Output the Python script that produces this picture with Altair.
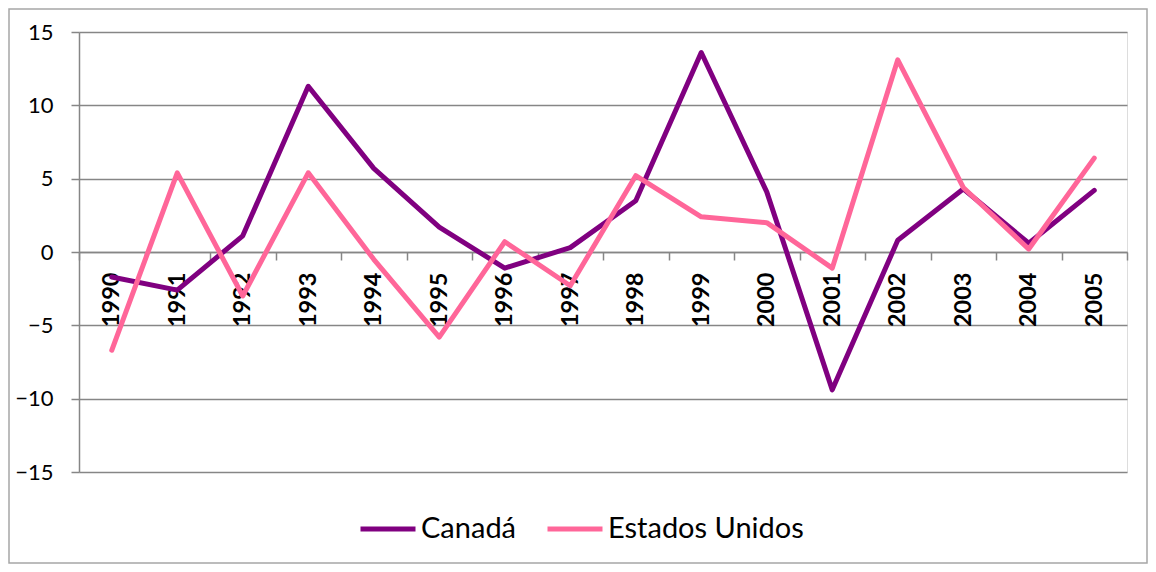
import altair as alt
import pandas as pd

years = [str(y) for y in range(1990, 2006)]
canada = [-1.7, -2.6, 1.1, 11.3, 5.7, 1.7, -1.1, 0.3, 3.5, 13.6, 4.1, -9.4, 0.8, 4.3, 0.6, 4.2]
usa = [-6.7, 5.4, -3.0, 5.4, -0.5, -5.8, 0.7, -2.3, 5.2, 2.4, 2.0, -1.1, 13.1, 4.4, 0.2, 6.4]
series_names = ["Canadá", "Estados Unidos"]
series_colors = ["#800080", "#FF6699"]
y_ticks = [-15, -10, -5, 0, 5, 10, 15]

rows = []
for i, yr in enumerate(years):
    rows.append({"year": yr, "serie": series_names[0], "value": canada[i]})
    rows.append({"year": yr, "serie": series_names[1], "value": usa[i]})
df = pd.DataFrame(rows)

W, H = 1048, 440
PL, PT, PR, PB = 71, 24, 21, 92

lines = alt.Chart(df).mark_line(strokeWidth=5, strokeCap="round", strokeJoin="round").encode(
    x=alt.X("year:O", bandPosition=0.5,
            scale=alt.Scale(type="band", domain=years, paddingInner=0, paddingOuter=0),
            axis=alt.Axis(title=None, orient="bottom", offset=-220, labelAngle=-90,
                          labelFont="Lato", labelFontSize=23.5, labelFontWeight="bold",
                          labelColor="#000000", labelPadding=12, tickBand="extent",
                          tickSize=8, tickColor="#868686", tickWidth=1.5,
                          domainColor="#868686", domainWidth=1.5, grid=False)),
    y=alt.Y("value:Q",
            scale=alt.Scale(domain=[-15, 15], nice=False, zero=False),
            axis=alt.Axis(title=None, values=y_ticks, labelFont="Lato", labelFontSize=22,
                          labelColor="#000000", labelPadding=18, tickSize=8,
                          tickColor="#868686", tickWidth=1.5, domainColor="#868686",
                          domainWidth=1.5, gridColor="#868686", gridWidth=1.5)),
    color=alt.Color("serie:N",
                    scale=alt.Scale(domain=series_names, range=series_colors),
                    legend=alt.Legend(title=None, orient="none", direction="horizontal",
                                      legendX=279, legendY=467, symbolType="stroke",
                                      symbolSize=3025, symbolStrokeWidth=5,
                                      labelFont="Lato", labelFontSize=29, labelLimit=0,
                                      labelColor="#000000", labelOffset=3,
                                      columnPadding=20, padding=0)),
)

frame = alt.Chart(pd.DataFrame({"a": [0]})).mark_rect(
    fill=None, stroke="#A6A6A6", strokeWidth=1.5
).encode(
    x=alt.value(-PL + 1), x2=alt.value(W + PR - 1),
    y=alt.value(-PT + 1), y2=alt.value(H + PB - 1),
)

chart = alt.layer(lines, frame).properties(
    width=W, height=H,
    autosize=alt.AutoSizeParams(type="none"),
    padding={"left": PL, "top": PT, "right": PR, "bottom": PB},
).configure_view(strokeWidth=0).configure(background="white")

chart.save("out.html", embed_options={"renderer": "svg", "actions": False})
